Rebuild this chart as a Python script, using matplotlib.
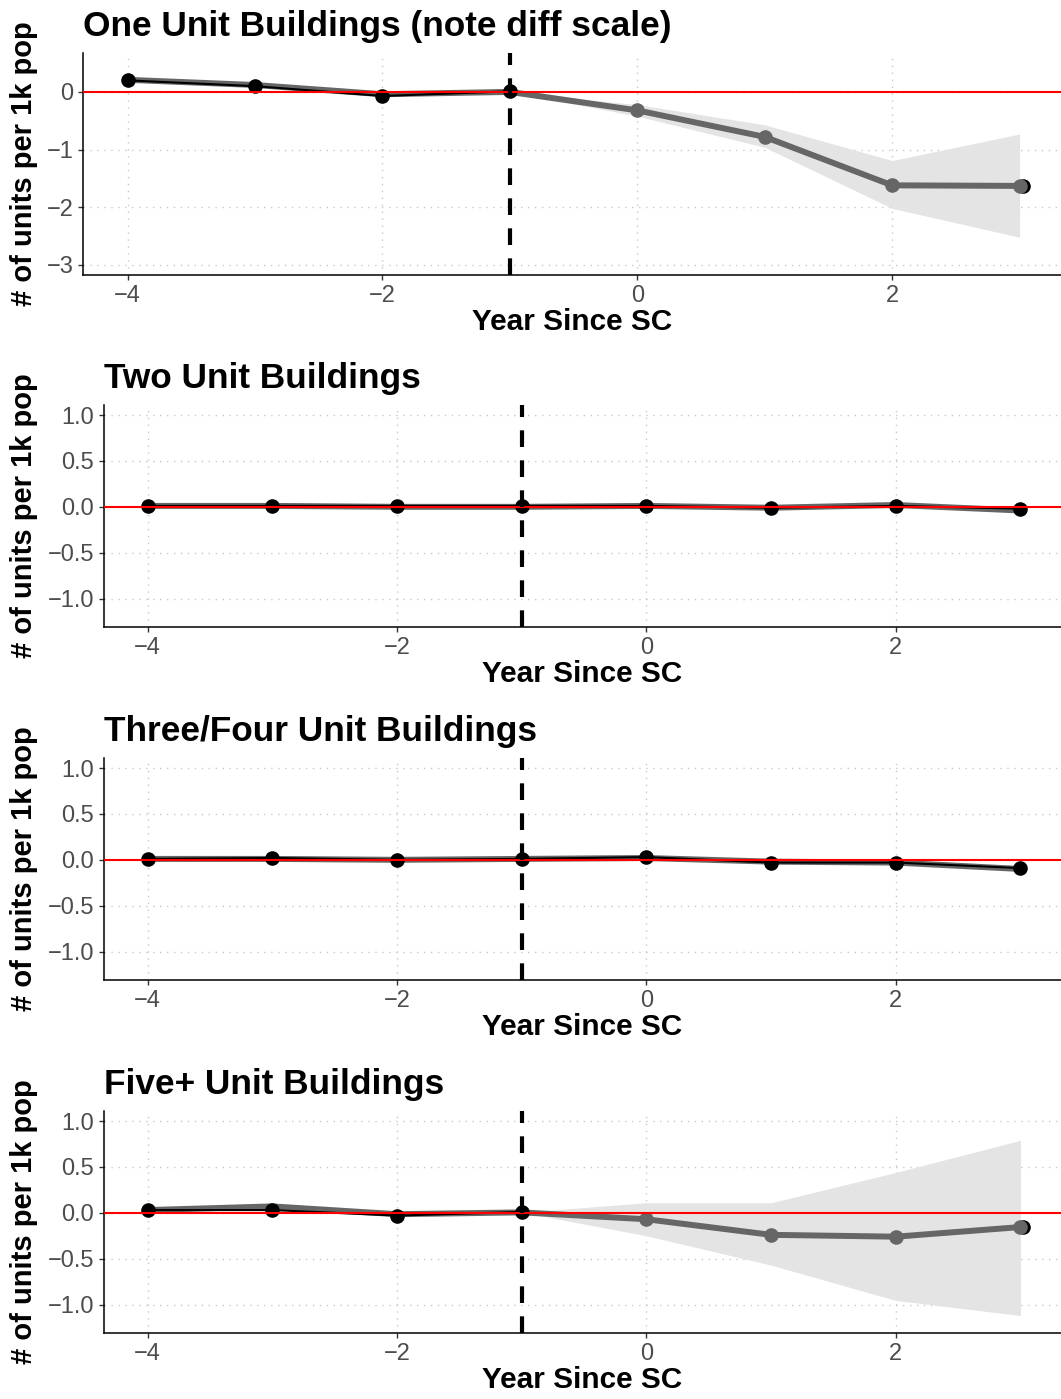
import numpy as np
import matplotlib
matplotlib.use("Agg")
import matplotlib.pyplot as plt
import matplotlib.transforms as mtransforms
from matplotlib.ticker import FuncFormatter

plt.rcParams['font.family'] = ['Liberation Sans', 'DejaVu Sans']

nan = np.nan
years = [-4, -3, -2, -1, 0, 1, 2, 3]

titles = ["One Unit Buildings (note diff scale)", "Two Unit Buildings",
          "Three/Four Unit Buildings", "Five+ Unit Buildings"]

# estimate with confidence band, plus observed series
one_est = [0.21, 0.12, -0.04, 0.0, -0.32, -0.78, -1.62, -1.63]
one_lo = [0.21, 0.12, -0.04, 0.0, -0.42, -0.96, -2.02, -2.52]
one_hi = [0.21, 0.12, -0.04, 0.0, -0.22, -0.57, -1.19, -0.73]
one_obs = [0.20, 0.10, -0.07, 0.01, nan, nan, nan, nan]

two_est = [0.01, 0.01, 0.0, 0.0, 0.01, -0.01, 0.02, -0.04]
two_lo = [0.01, 0.01, 0.0, 0.0, 0.0, -0.02, 0.0, -0.06]
two_hi = [0.01, 0.01, 0.0, 0.0, 0.02, 0.0, 0.03, -0.02]
two_obs = [0.01, 0.01, 0.01, 0.01, 0.01, -0.01, 0.01, -0.02]

three_est = [0.01, 0.01, 0.0, 0.01, 0.02, -0.02, -0.03, -0.10]
three_lo = [0.01, 0.01, 0.0, 0.01, 0.01, -0.03, -0.04, -0.12]
three_hi = [0.01, 0.01, 0.0, 0.01, 0.03, -0.01, -0.02, -0.08]
three_obs = [0.01, 0.02, 0.0, 0.01, 0.03, -0.03, -0.03, -0.09]

five_est = [0.03, 0.07, -0.015, 0.005, -0.07, -0.24, -0.26, -0.155]
five_lo = [0.03, 0.07, -0.015, 0.005, -0.25, -0.57, -0.955, -1.12]
five_hi = [0.03, 0.07, -0.015, 0.005, 0.11, 0.11, 0.44, 0.79]
five_obs = [0.03, 0.03, -0.03, 0.01, nan, nan, nan, nan]

# final observed value, shown just behind the last estimate point
end_obs = [-1.63, nan, nan, -0.155]

panels = [
    (one_est, one_lo, one_hi, one_obs),
    (two_est, two_lo, two_hi, two_obs),
    (three_est, three_lo, three_hi, three_obs),
    (five_est, five_lo, five_hi, five_obs),
]
ylims = [(-3, 0.5), (-1.2, 1.0), (-1.2, 1.0), (-1.2, 1.0)]
yticks = [[-3, -2, -1, 0], [-1.0, -0.5, 0.0, 0.5, 1.0],
          [-1.0, -0.5, 0.0, 0.5, 1.0], [-1.0, -0.5, 0.0, 0.5, 1.0]]

W, H = 1061, 1399
fig = plt.figure(figsize=(W / 100, H / 100), dpi=100)

lefts = [83, 104, 104, 104]
tops = [53, 405, 758, 1111]
ax_h = 222

def fmt_int(v, pos):
    return f"{v:.0f}".replace("-", "\u2212")

def fmt_one(v, pos):
    return f"{v:.1f}".replace("-", "\u2212")

for i, (est, lo, hi, obs) in enumerate(panels):
    left, top = lefts[i], tops[i]
    ax = fig.add_axes([left / W, 1 - (top + ax_h) / H, (W - left) / W, ax_h / H])

    est_pts = [e if np.isnan(o) else nan for e, o in zip(est, obs)]

    ax.fill_between(years, lo, hi, color='#E4E4E4', lw=0, zorder=1)
    shift = mtransforms.offset_copy(ax.transData, fig=fig, x=3, y=0, units='dots')
    ax.plot(years[-1], end_obs[i], 'o', color='black', ms=10.5, mew=0,
            transform=shift, zorder=2)
    ax.plot(years, est, color='#666666', lw=4.3, zorder=3, solid_capstyle='butt')
    ax.plot(years, est_pts, 'o', color='#666666', ms=10.5, mew=0, zorder=4)
    ax.plot(years, obs, color='black', lw=1.5, zorder=5)
    ax.plot(years, obs, 'o', color='black', ms=10.5, mew=0, zorder=6)
    ax.axhline(0, color='red', lw=1.5, zorder=7)
    ax.axvline(-1, color='black', lw=3, dashes=(4, 3.2), zorder=8)

    ax.set_xlim(-4.35, 3.325)
    lo_y, hi_y = ylims[i]
    pad = (hi_y - lo_y) * 0.05
    ax.set_ylim(lo_y - pad, hi_y + pad)
    ax.set_xticks([-4, -2, 0, 2])
    ax.set_yticks(yticks[i])
    ax.xaxis.set_major_formatter(FuncFormatter(fmt_int))
    ax.yaxis.set_major_formatter(FuncFormatter(fmt_int if i == 0 else fmt_one))

    ax.grid(True, color='#C8C8C8', lw=1, linestyle=(0, (1, 4)), zorder=0)
    ax.set_axisbelow(True)
    for s in ['top', 'right']:
        ax.spines[s].set_visible(False)
    for s in ['left', 'bottom']:
        ax.spines[s].set_linewidth(1.1)
    ax.tick_params(length=3.6, width=1, color='#333333', labelcolor='#4D4D4D',
                   labelsize=17, pad=3.4)

    ax.text(0, 1 + 17 / ax_h, titles[i], transform=ax.transAxes, fontsize=25.4,
            fontweight='bold', ha='left', va='baseline')
    ax.text(0.5, -55 / ax_h, "Year Since SC", transform=ax.transAxes, fontsize=21.4,
            fontweight='bold', ha='center', va='baseline')
    fig.text(24 / W, 1 - (top + ax_h / 2) / H, "# of units per 1k pop", fontsize=21,
             fontweight='bold', rotation=90, ha='center', va='center')

fig.savefig("out.png", dpi=100)
